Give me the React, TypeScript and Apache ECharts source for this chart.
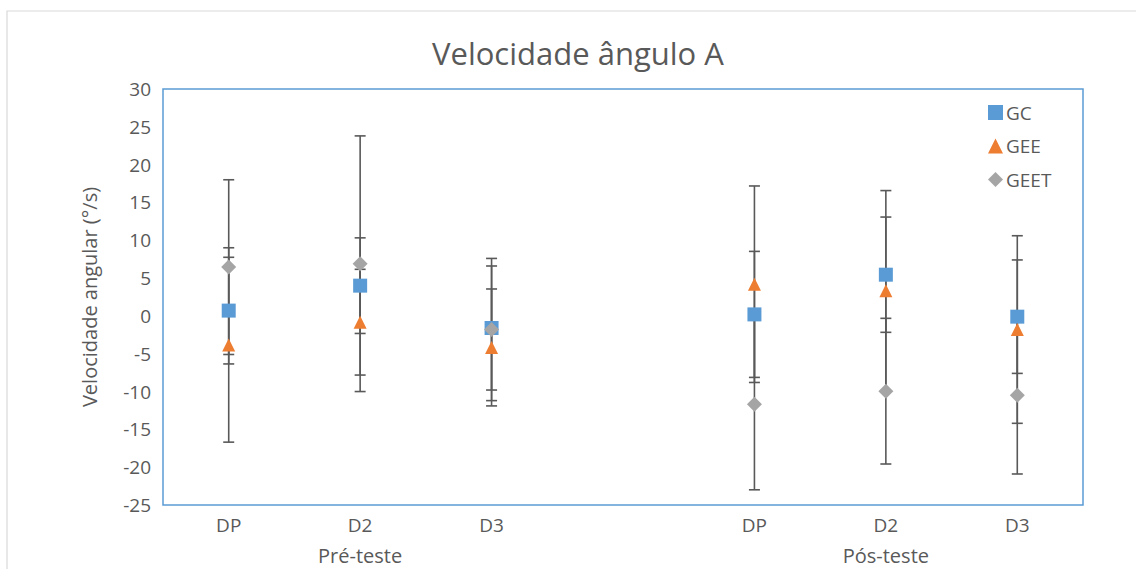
import React, { useEffect, useRef } from "react";
import * as echarts from "echarts";

const categories = ["DP", "D2", "D3", "", "DP", "D2", "D3"];
const groupLabels = ["", "Pré-teste", "", "", "", "Pós-teste", ""];
const seriesNames = ["GC", "GEE", "GEET"];
const gcMean: (number | null)[] = [0.7, 4.0, -1.6, null, 0.2, 5.45, -0.1];
const gcSd: (number | null)[] = [7.05, 6.32, 8.2, null, 8.33, 7.62, 7.5];
const geeMean: (number | null)[] = [-3.84, -0.83, -4.17, null, 4.19, 3.31, -1.8];
const geeSd: (number | null)[] = [12.85, 6.99, 7.73, null, 12.99, 13.26, 12.4];
const geetMean: (number | null)[] = [6.45, 6.9, -1.8, null, -11.69, -9.95, -10.5];
const geetSd: (number | null)[] = [11.55, 16.9, 9.4, null, 11.3, 9.63, 10.4];
const yTicks = { min: -25, max: 30, interval: 5 };

const colors = ["#5B9BD5", "#ED7D31", "#A5A5A5"];
const symbols = ["rect", "triangle", "diamond"];
const symbolSizes = [14, 13, 15];
const means = [gcMean, geeMean, geetMean];
const sds = [gcSd, geeSd, geetSd];

export default function App() {
  const ref = useRef<HTMLDivElement>(null);
  useEffect(() => {
    if (!ref.current) return;
    const chart = echarts.init(ref.current, undefined, { renderer: "svg" });
    const font = "'Open Sans', 'Noto Sans', sans-serif";
    const textColor = "#595959";

    const errorSeries = means.map((m, si) => ({
      type: "custom",
      name: seriesNames[si] + "_err",
      z: 1,
      silent: true,
      data: m
        .map((v, i) => (v === null ? null : [i, v - (sds[si][i] as number), v + (sds[si][i] as number)]))
        .filter((d) => d !== null),
      renderItem: (params: any, api: any) => {
        const x = api.value(0);
        const lo = api.coord([x, api.value(1)]);
        const hi = api.coord([x, api.value(2)]);
        const cap = 5.5;
        const style = { stroke: "#595959", lineWidth: 1.6 };
        return {
          type: "group",
          children: [
            { type: "line", shape: { x1: lo[0], y1: lo[1], x2: hi[0], y2: hi[1] }, style },
            { type: "line", shape: { x1: lo[0] - cap, y1: lo[1], x2: lo[0] + cap, y2: lo[1] }, style },
            { type: "line", shape: { x1: hi[0] - cap, y1: hi[1], x2: hi[0] + cap, y2: hi[1] }, style },
          ],
        };
      },
    }));

    const scatterSeries = means.map((m, si) => ({
      type: "scatter",
      name: seriesNames[si],
      z: 5,
      symbol: symbols[si],
      symbolSize: symbolSizes[si],
      itemStyle: { color: colors[si], opacity: 1 },
      data: m.map((v) => (v === null ? "-" : v)),
    }));

    chart.setOption({
      animation: false,
      backgroundColor: "#ffffff",
      textStyle: { fontFamily: font },
      title: {
        text: "Velocidade ângulo A",
        left: 427,
        top: 32,
        textStyle: { fontFamily: font, fontSize: 31, fontWeight: "normal", color: textColor },
      },
      graphic: [
        {
          type: "rect",
          shape: { x: 7, y: 11, width: 1200, height: 700 },
          style: { fill: "none", stroke: "#D9D9D9", lineWidth: 1.2 },
          silent: true,
          z: -1,
        },
      ],
      legend: {
        orient: "vertical",
        left: 983,
        top: 98,
        itemWidth: 15,
        itemHeight: 15,
        itemGap: 14.5,
        textStyle: { fontFamily: font, fontSize: 19, color: textColor, padding: [0, 0, 0, -2] },
        data: seriesNames.map((n, i) => ({ name: n, icon: symbols[i] })),
      },
      grid: {
        left: 163,
        top: 89,
        right: 53,
        bottom: 64,
        show: true,
        borderColor: "#5B9BD5",
        borderWidth: 1.5,
        backgroundColor: "transparent",
      },
      xAxis: [
        {
          type: "category",
          data: categories,
          boundaryGap: true,
          axisLine: { show: false },
          axisTick: { show: false },
          splitLine: { show: false },
          axisLabel: { color: textColor, fontSize: 19, fontFamily: font, margin: 10, interval: 0 },
        },
        {
          type: "category",
          data: groupLabels,
          position: "bottom",
          offset: 30,
          boundaryGap: true,
          axisLine: { show: false },
          axisTick: { show: false },
          splitLine: { show: false },
          axisLabel: { color: textColor, fontSize: 20, fontFamily: font, margin: 10, interval: 0 },
        },
      ],
      yAxis: {
        type: "value",
        min: yTicks.min,
        max: yTicks.max,
        interval: yTicks.interval,
        name: "Velocidade angular (°/s)",
        nameLocation: "middle",
        nameGap: 64,
        nameRotate: 90,
        nameTextStyle: { color: textColor, fontSize: 20, fontFamily: font },
        axisLine: { show: false },
        axisTick: { show: false },
        splitLine: { show: false },
        axisLabel: { color: textColor, fontSize: 19, fontFamily: font, margin: 12 },
      },
      series: [...errorSeries, ...scatterSeries],
    });
    return () => chart.dispose();
  }, []);
  return (
    <div
      ref={ref}
      style={{ position: "fixed", left: 0, top: 0, width: 1136, height: 569, background: "#fff" }}
    />
  );
}
